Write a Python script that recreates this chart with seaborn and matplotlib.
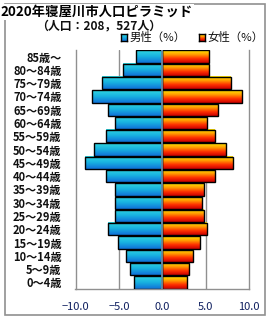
import numpy as np
import pandas as pd
import matplotlib
matplotlib.use("Agg")
import matplotlib.pyplot as plt
from matplotlib.patches import Rectangle
from matplotlib.colors import LinearSegmentedColormap
import seaborn as sns

ages = ["85歳～", "80～84歳", "75～79歳", "70～74歳", "65～69歳", "60～64歳",
        "55～59歳", "50～54歳", "45～49歳", "40～44歳", "35～39歳", "30～34歳",
        "25～29歳", "20～24歳", "15～19歳", "10～14歳", "5～9歳", "0～4歳"]
male = [3.0, 4.55, 6.9, 8.15, 6.3, 5.5, 6.45, 7.9, 8.85, 6.5, 5.5, 5.4,
        5.5, 6.3, 5.15, 4.15, 3.7, 3.3]
female = [5.4, 5.4, 7.9, 9.25, 6.45, 5.15, 6.1, 7.3, 8.15, 6.1, 4.8, 4.6,
          4.8, 5.15, 4.35, 3.55, 3.1, 2.85]
xticks = [-10, -5, 0, 5, 10]
xticklabels = ["−10.0", "−5.0", "0.0", "5.0", "10.0"]
title = "2020年寝屋川市人口ピラミッド"
subtitle = "（人口：208，527人）"
legend_labels = ["男性（%）", "女性（%）"]

sns.set_style("white")
plt.rcParams['font.family'] = ['Noto Sans CJK JP', 'DejaVu Sans']

df = pd.DataFrame({
    "age": ages * 2,
    "value": [-v for v in male] + female,
    "sex": ["男性"] * len(ages) + ["女性"] * len(ages),
})

W, H = 270, 320
fig = plt.figure(figsize=(W / 100, H / 100), dpi=100)
ax = fig.add_axes([75.5 / W, 1 - 289 / H, (249 - 75.5) / W, (289 - 50) / H])

sns.barplot(data=df, y="age", x="value", hue="sex", order=ages,
            palette={"男性": "#1aa0e0", "女性": "#ff8000"},
            dodge=False, width=0.93, orient="h", legend=False, ax=ax,
            edgecolor="black", linewidth=1.0)

male_cmap = LinearSegmentedColormap.from_list("m", ["#30d8e0", "#18b0e0", "#1070d8"])
female_cmap = LinearSegmentedColormap.from_list("f", ["#ffe800", "#ffa000", "#ff3000", "#c80000"])
grad = np.linspace(0, 1, 64).reshape(-1, 1)

for p in list(ax.patches):
    x0 = p.get_x(); w = p.get_width(); y0 = p.get_y(); h = p.get_height()
    if w == 0 or np.isnan(w):
        continue
    cmap = male_cmap if w < 0 else female_cmap
    xl, xr = min(x0, x0 + w), max(x0, x0 + w)
    ax.imshow(grad, cmap=cmap, extent=(xl, xr, y0 + h, y0), origin="upper",
              aspect="auto", zorder=2, interpolation="bilinear")
    p.set_facecolor("none")
    p.set_zorder(3)

ax.set_xlim(-10, 10)
ax.set_ylim(len(ages) - 0.5, -0.5)
ax.set_aspect("auto")
ax.set_xticks(xticks)
ax.set_xticklabels(xticklabels, fontsize=8, color="#102060")
ax.tick_params(axis="x", length=0, pad=9)
ax.tick_params(axis="y", length=0, pad=10, labelsize=8)
for lab in ax.get_yticklabels():
    lab.set_fontweight("bold")
    lab.set_color("#101010")
ax.set_xlabel("")
ax.set_ylabel("")

for x in (-5, 5):
    ax.axvline(x, color="#909090", lw=1.0, zorder=1)
ax.axvline(0, color="#6a8fa8", lw=1.3, zorder=4)

for s in ("left", "right", "bottom"):
    ax.spines[s].set_color("#909090")
    ax.spines[s].set_linewidth(1.0)
ax.spines["top"].set_visible(False)

# outer frame
frame = Rectangle((5 / W, 1 - 315 / H), (265 - 5) / W, (315 - 4) / H,
                  transform=fig.transFigure, fill=False, edgecolor="#909090",
                  lw=1.2, zorder=0)
fig.add_artist(frame)

fig.text(0 / W, 1 - 12 / H, title, fontsize=9.6, fontweight="bold",
         ha="left", va="center", color="black",
         bbox=dict(facecolor="white", edgecolor="none", pad=1.0))
fig.text(99 / W, 1 - 25.5 / H, subtitle, fontsize=8.6, fontweight="bold",
         ha="center", va="center", color="#101010")

# legend
for sx, cmap, lab in ((121, male_cmap, legend_labels[0]),
                      (199, female_cmap, legend_labels[1])):
    lax = fig.add_axes([sx / W, 1 - 41 / H, 6 / W, 7 / H])
    lax.imshow(grad, cmap=cmap, aspect="auto", extent=(0, 1, 0, 1))
    lax.set_xticks([]); lax.set_yticks([])
    for s in lax.spines.values():
        s.set_color("black"); s.set_linewidth(1.0)
    fig.text((sx + 8) / W, 1 - 37.5 / H, lab, fontsize=8.2,
             ha="left", va="center", color="#101010")

fig.savefig("out.png", dpi=100, facecolor="white")
